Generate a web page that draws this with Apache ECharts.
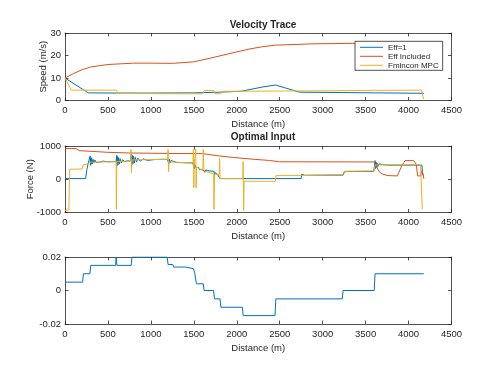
<!DOCTYPE html>
<html>
<head>
<meta charset="utf-8">
<script src="https://cdn.jsdelivr.net/npm/echarts@6/dist/echarts.min.js"></script>
<style>
  html, body { margin: 0; padding: 0; background: #fff; }
  #chart { width: 500px; height: 375px; }
</style>
</head>
<body>
<div id="chart"></div>
<script>
const distanceTicks = [0, 4500, 500]

// speed (m/s) vs distance (m)
const speedEff1 = [[0, 10], [270, 3.4], [600, 3.3], [1000, 3.3], [1500, 3.4], [1800, 3.7], [2050, 4.1], [2300, 6.0], [2450, 6.9], [2730, 3.7], [3600, 3.4], [4170, 3.2], [4180, 2.9]]
const speedEffIncluded = [[0, 10], [100, 12], [200, 13.7], [300, 14.9], [500, 16], [800, 16.6], [1000, 16.6], [1250, 16.5], [1500, 17.2], [1700, 18.9], [2000, 21.6], [2150, 22.9], [2300, 23.9], [2450, 24.6], [2900, 25.2], [3350, 25.4], [3800, 25.4], [4170, 25.2]]
const speedMpc = [[0, 10], [75, 4.6], [600, 4.6], [610, 3.1], [760, 3.1], [765, 3.3], [775, 2.95], [1600, 2.95], [1620, 4.4], [1735, 4.4], [1745, 3], [1815, 3], [1825, 4.1], [2060, 4.1], [2070, 3.3], [2080, 4.1], [2450, 4.2], [3000, 4.3], [3600, 4.5], [3610, 4.6], [4150, 4.6], [4175, 0.6]]

// force (N) vs distance (m)
const forceEff1 = [[0, 20], [240, 20], [255, 300], [268, 460], [285, 470],
  [292, 700], [296, 420], [300, 660], [305, 450], [311, 630], [318, 470], [326, 600], [336, 490], [348, 580], [362, 505], [380, 560], [405, 515], [440, 545], [500, 525], [595, 530],
  [602, 720], [606, 400], [611, 680], [617, 430], [624, 650], [632, 460], [642, 620], [655, 490], [672, 590], [695, 520], [730, 560], [760, 545],
  [772, 760], [777, 430], [783, 720], [790, 460], [798, 690], [807, 490], [818, 660], [832, 515], [850, 635], [875, 540], [910, 615], [960, 565], [1050, 595], [1190, 600],
  [1205, 660], [1210, 470], [1216, 600], [1223, 490], [1232, 560], [1245, 500], [1265, 540], [1300, 505], [1400, 495], [1490, 490],
  [1498, 350], [1503, 480], [1508, 320], [1515, 420], [1525, 350], [1540, 380], [1555, 360], [1565, 290], [1575, 340], [1585, 280], [1600, 300], [1615, 270],
  [1622, 300], [1628, 210], [1636, 280], [1645, 230], [1660, 260], [1700, 245], [1735, 240], [1740, 130], [1745, 200], [1752, 140], [1762, 180], [1775, 150], [1795, 150],
  [1805, 20], [2450, 20], [2750, 20], [2755, 150], [2760, 100], [2768, 135], [2790, 120], [3240, 125],
  [3250, 220], [3256, 270], [3262, 215], [3270, 250], [3290, 235], [3595, 235],
  [3605, 450], [3610, 560], [3615, 320], [3620, 520], [3626, 350], [3633, 490], [3642, 380], [3655, 460], [3672, 400], [3700, 440], [3750, 425], [4155, 425], [4165, 130], [4175, 100]]
const forceEffIncluded = [[0, 930], [130, 920], [165, 860], [500, 810], [750, 790], [1250, 775], [1600, 770], [1780, 706], [1960, 655], [2200, 600], [2380, 565], [2500, 525], [3600, 520], [3620, 480], [3660, 220], [3700, 150], [3760, 110], [3870, 100], [3920, 400], [3960, 560], [4060, 560], [4090, 450], [4105, 100], [4140, 100], [4155, 260], [4170, 150], [4178, 10]]
const forceMpc = [[0, -930], [45, -930], [55, 300], [200, 310], [210, 430], [250, 450], [290, 510], [595, 530], [598, -900], [603, 530], [765, 550], [768, 900], [774, 200], [780, 580], [1195, 600], [1200, 900], [1206, 230], [1212, 520], [1490, 490], [1495, 900], [1500, -250], [1505, 480], [1518, 470], [1522, 900], [1527, -260], [1532, 370], [1605, 260], [1610, 900], [1616, 350], [1622, 250], [1730, 160], [1735, -900], [1741, 150], [1795, 150], [1800, 640], [1806, 20], [2070, 20], [2074, 530], [2080, -940], [2086, -60], [2450, -60], [2455, 110], [2760, 110], [2765, 140], [3245, 140], [3255, 240], [3600, 250], [3610, 430], [4140, 440], [4150, 430], [4160, -900]]

// third panel (grade)
const grade = [[0, 0.005], [205, 0.005], [215, 0.01], [290, 0.01], [300, 0.015], [590, 0.015], [595, 0.02], [605, 0.015], [770, 0.015], [780, 0.02], [1190, 0.02], [1200, 0.0155], [1255, 0.0155], [1265, 0.014], [1405, 0.014], [1415, 0.013], [1495, 0.013], [1510, 0.0105], [1530, 0.004], [1610, 0.004], [1620, 0], [1730, 0], [1740, -0.005], [1805, -0.005], [1815, -0.01], [2065, -0.01], [2075, -0.015], [2445, -0.015], [2455, -0.005], [3228, -0.005], [3238, 0], [3600, 0], [3610, 0.01], [4177, 0.01]]

const speedTicks = [0, 30, 10]
const forceTicks = [-1000, 1000, 1000]
const gradeTicks = [-0.02, 0.02, 0.02]

const seriesNames = ["Eff=1", "Eff Included", "Fmincon MPC"]
const colors = ["#0072BD", "#D95319", "#EDB120"]

const font = "Liberation Sans, Arial, sans-serif"
const ink = "#262626"
const frame = { show: true, onZero: false, lineStyle: { color: ink, width: 0.8 } }
const tick = { show: true, inside: true, length: 3.5, lineStyle: { color: ink, width: 0.8 } }
const plainNumber = (v) => String(+Number(v).toFixed(4))

const grids = [
  { left: 65, top: 33, width: 386.5, height: 67.5 },
  { left: 65, top: 146, width: 386.5, height: 66.5 },
  { left: 65, top: 257, width: 386.5, height: 67 }
]

const xAxes = []
const yAxes = []
const yRanges = [speedTicks, forceTicks, gradeTicks]
const yNames = ["Speed (m/s)", "Force (N)", ""]
const yGaps = [17, 30, 0]
const xGaps = [18.5, 18.5, 19.5]

grids.forEach((g, i) => {
  const [xmin, xmax, xstep] = distanceTicks
  xAxes.push({
    gridIndex: i, type: "value", position: "bottom", min: xmin, max: xmax, interval: xstep,
    name: "Distance (m)", nameLocation: "middle", nameGap: xGaps[i], nameMoveOverlap: false,
    nameTextStyle: { fontFamily: font, fontSize: 9.5, color: ink },
    axisLine: frame, axisTick: tick, splitLine: { show: false },
    axisLabel: { fontFamily: font, fontSize: 9.5, color: ink, margin: 5, formatter: plainNumber }
  })
  xAxes.push({
    gridIndex: i, type: "value", position: "top", min: xmin, max: xmax, interval: xstep,
    axisLine: frame, axisTick: tick, splitLine: { show: false }, axisLabel: { show: false }
  })
  const [ymin, ymax, ystep] = yRanges[i]
  yAxes.push({
    gridIndex: i, type: "value", position: "left", min: ymin, max: ymax, interval: ystep,
    name: yNames[i], nameLocation: "middle", nameGap: yGaps[i], nameMoveOverlap: false,
    nameTextStyle: { fontFamily: font, fontSize: 9.5, color: ink },
    axisLine: frame, axisTick: tick, splitLine: { show: false },
    axisLabel: { fontFamily: font, fontSize: 9.5, color: ink, margin: 4, formatter: plainNumber }
  })
  yAxes.push({
    gridIndex: i, type: "value", position: "right", min: ymin, max: ymax, interval: ystep,
    axisLine: frame, axisTick: tick, splitLine: { show: false }, axisLabel: { show: false }
  })
})

function line(name, data, panel, color) {
  return {
    name, type: "line", data, xAxisIndex: panel * 2, yAxisIndex: panel * 2,
    showSymbol: false, symbol: "none", animation: false,
    lineStyle: { color, width: 1 }, itemStyle: { color }
  }
}

const chart = echarts.init(document.getElementById("chart"), null, { renderer: "canvas" })
chart.setOption({
  backgroundColor: "#fff",
  animation: false,
  title: [
    { text: "Velocity Trace", left: 258, top: 15, textAlign: "center", textStyle: { fontFamily: font, fontSize: 10, fontWeight: "bold", color: ink } },
    { text: "Optimal Input", left: 258, top: 127, textAlign: "center", textStyle: { fontFamily: font, fontSize: 10, fontWeight: "bold", color: ink } }
  ],
  legend: {
    orient: "vertical", left: 355, top: 41.3, data: seriesNames,
    icon: "path://M0,0H23V1H0Z",
    padding: [2, 4, 1, 5], itemWidth: 23, itemHeight: 9.5, itemGap: 1,
    backgroundColor: "#fff", borderColor: ink, borderWidth: 0.8,
    textStyle: { fontFamily: font, fontSize: 8, color: ink }
  },
  grid: grids,
  xAxis: xAxes,
  yAxis: yAxes,
  series: [
    line(seriesNames[0], speedEff1, 0, colors[0]),
    line(seriesNames[1], speedEffIncluded, 0, colors[1]),
    line(seriesNames[2], speedMpc, 0, colors[2]),
    line("forceEff1", forceEff1, 1, colors[0]),
    line("forceEffIncluded", forceEffIncluded, 1, colors[1]),
    line("forceMpc", forceMpc, 1, colors[2]),
    line("grade", grade, 2, colors[0])
  ]
})
</script>
</body>
</html>
